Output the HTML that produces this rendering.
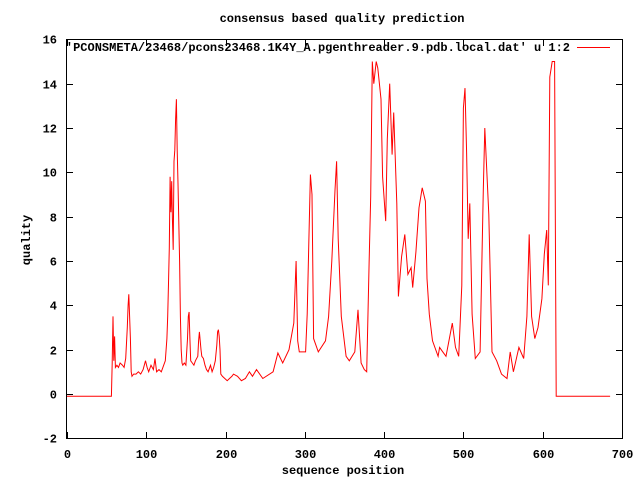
<!DOCTYPE html>
<html><head><meta charset="utf-8"><style>
html,body{margin:0;padding:0;background:#fff;}
svg{display:block;font-family:"Liberation Mono",monospace;font-size:12px;font-weight:bold;}
</style></head><body>
<svg id="chart" width="640" height="480" xmlns="http://www.w3.org/2000/svg">
<rect width="640" height="480" fill="#fff"/>
<text x="342" y="22" text-anchor="middle">consensus based quality prediction</text>
<text x="343" y="474" text-anchor="middle">sequence position</text>
<text transform="translate(30,240) rotate(-90)" text-anchor="middle">quality</text>
<g id="axes"></g>
<rect x="66.5" y="39.5" width="556" height="399" fill="none" stroke="#000" stroke-width="1"/>
<polyline id="series" fill="none" stroke="#f00" stroke-width="1"/>
<text x="570" y="51" text-anchor="end">'PCONSMETA/23468/pcons23468.1K4Y_A.pgenthreader.9.pdb.local.dat' u 1:2</text>
<line x1="577" y1="47.5" x2="610" y2="47.5" stroke="#f00"/>
</svg>
<script>
const xTicks=[0,100,200,300,400,500,600,700];
const yTicks=[-2,0,2,4,6,8,10,12,14,16];
const xs=[0,56,57,58,59,60,61,63,65,67,70,72,74,76,77,78,79,80,81,82,84,87,90,93,96,99,101,103,106,109,111,113,116,119,122,124,126,127,128,129,130,131,132,133,134,135,136,137,138,139,140,142,143,144,145,146,148,150,152,153,154,155,156,158,160,162,165,166,167,168,169,170,172,174,176,178,181,183,185,187,189,190,191,192,193,194,196,199,202,205,208,210,215,220,225,230,234,239,247,260,266,272,280,286,289,291,293,301,303,305,307,309,311,317,326,330,334,338,340,342,346,352,356,363,367,371,375,378,381,383,385,387,390,392,396,398,402,404,407,410,412,416,418,422,426,430,434,436,440,444,448,452,454,457,461,468,470,474,478,486,490,494,498,500,502,504,506,508,511,515,521,525,527,532,536,542,548,555,559,563,570,576,580,583,586,590,594,599,602,605,607,609,612,615,616,617,685];
const ys=[-0.1,-0.1,1.4,3.5,1.5,2.6,1.2,1.3,1.2,1.4,1.3,1.2,1.6,3,4.0,4.5,3.5,2.5,1.0,0.8,0.9,0.9,1.0,0.9,1.1,1.5,1.2,1.0,1.3,1.1,1.6,1.0,1.1,1.0,1.3,1.5,2.5,3.5,5,6.6,9.8,8.2,9.6,7.9,6.5,10.5,11.0,12.4,13.3,11.0,9.5,6,3.5,2,1.4,1.3,1.4,1.3,2.5,3.5,3.7,2.5,1.5,1.4,1.3,1.5,1.7,2.4,2.8,2.4,2.0,1.7,1.6,1.3,1.1,1.0,1.3,1.0,1.2,1.5,2.2,2.8,2.9,2.6,2.0,0.9,0.8,0.7,0.6,0.7,0.8,0.9,0.8,0.6,0.7,1.0,0.8,1.1,0.7,1.0,1.85,1.4,2.0,3.2,6.0,2.4,1.9,1.9,3.6,6.8,9.9,9.0,2.5,1.9,2.4,3.5,6.0,9.2,10.5,7.0,3.5,1.7,1.5,1.9,3.8,1.4,1.1,1.0,5.9,8.9,15,14,15,14.7,13.3,9.8,7.8,11.5,14.0,10.8,12.7,8.6,4.4,6.2,7.2,5.4,5.7,4.8,6.4,8.4,9.3,8.7,5.2,3.6,2.4,1.7,2.1,1.9,1.7,3.2,2.1,1.7,4.9,12.9,13.8,10.9,7.0,8.6,3.6,1.6,1.9,9.2,12.0,8.1,1.9,1.5,0.9,0.7,1.9,1.0,2.1,1.6,3.5,7.2,3.5,2.5,3.0,4.3,6.3,7.4,4.9,14.3,15,15,7.2,-0.1,-0.1];
const sx=v=>67+v*(555/700);
const sy=v=>394-v*(399/18);
const NS="http://www.w3.org/2000/svg";
const ax=document.getElementById('axes');
function mk(t,a){const e=document.createElementNS(NS,t);for(const k in a)e.setAttribute(k,a[k]);ax.appendChild(e);return e;}
xTicks.forEach(v=>{const x=Math.round(sx(v))+0.5;
 const l1=mk('line',{x1:x,y1:438,x2:x,y2:432,stroke:'#000'});
 
 
 const l2=mk('line',{x1:x,y1:40,x2:x,y2:46,stroke:'#000'});
 
 
 const t=mk('text',{x:x,y:458,'text-anchor':'middle'});t.textContent=v;
 
 
});
yTicks.forEach(v=>{const y=Math.round(sy(v))+0.5;
 const l1=mk('line',{x1:67,y1:y,x2:73,y2:y,stroke:'#000'});
 
 
 const l2=mk('line',{x1:616,y1:y,x2:622,y2:y,stroke:'#000'});
 
 
 const t=mk('text',{x:57,y:y+4,'text-anchor':'end'});t.textContent=v;
 
 
});
document.getElementById('series').setAttribute('points',xs.map((x,i)=>sx(x).toFixed(1)+','+sy(ys[i]).toFixed(1)).join(' '));
</script>
</body></html>
